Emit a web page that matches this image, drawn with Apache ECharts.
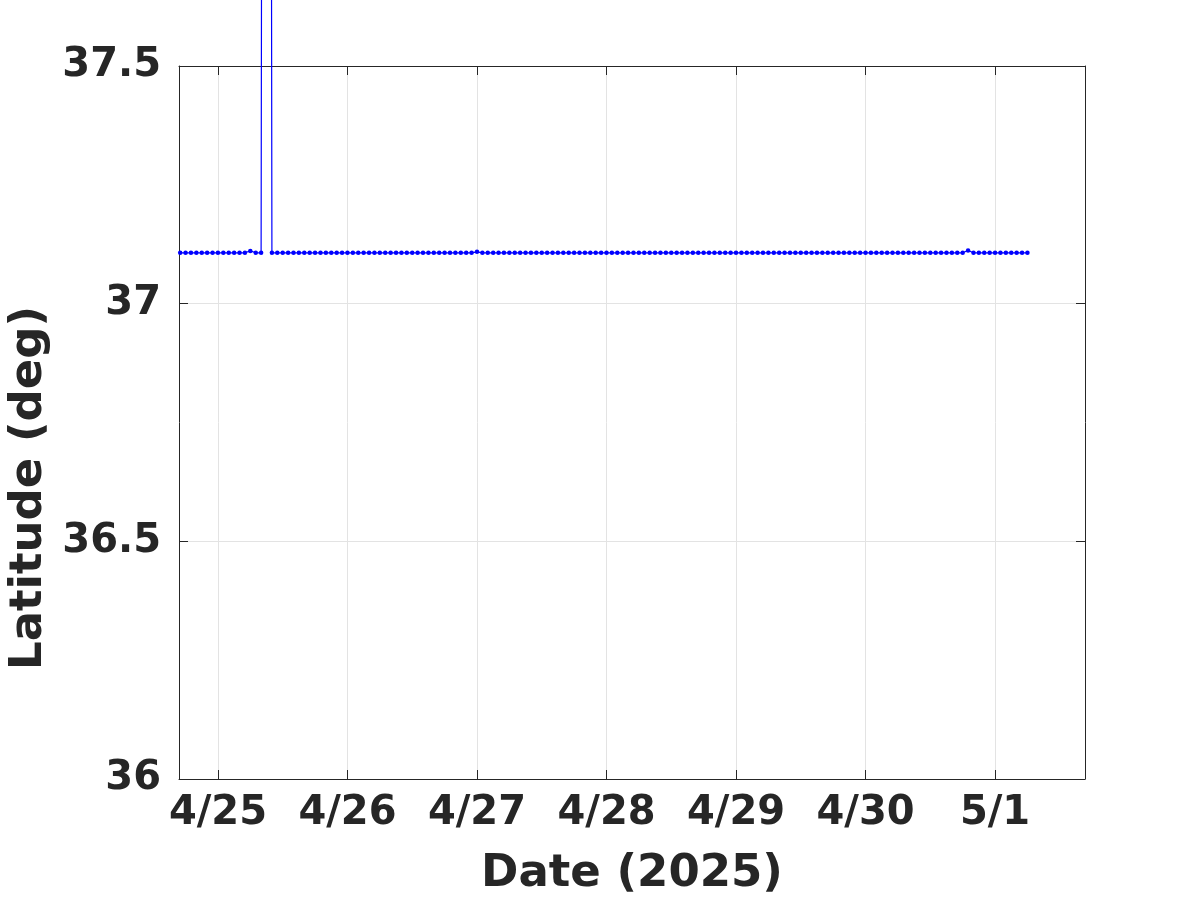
<!DOCTYPE html>
<html>
<head>
<meta charset="utf-8">
<script src="https://cdn.jsdelivr.net/npm/echarts@6/dist/echarts.min.js"></script>
<style>html,body{margin:0;padding:0;background:#fff}#c{width:1200px;height:900px}</style>
</head>
<body>
<div id="c"></div>
<script>
// hourly samples starting 2025-04-24 17:00
const startTime = [2025, 3, 24, 17];
const dayTicks = ['2025-04-25','2025-04-26','2025-04-27','2025-04-28','2025-04-29','2025-04-30','2025-05-01'];
const yTicks = [36, 36.5, 37, 37.5];
const latitude = [
  // 4/24 17-23
  37.107,37.107,37.107,37.107,37.107,37.107,37.107,
  // 4/25
  37.107,37.107,37.107,37.107,37.107,37.107,37.111,37.107,37.107,45.0,37.107,37.107,
  37.107,37.107,37.107,37.107,37.107,37.107,37.107,37.107,37.107,37.107,37.107,37.107,
  // 4/26
  37.107,37.107,37.107,37.107,37.107,37.107,37.107,37.107,37.107,37.107,37.107,37.107,
  37.107,37.107,37.107,37.107,37.107,37.107,37.107,37.107,37.107,37.107,37.107,37.107,
  // 4/27
  37.109,37.107,37.107,37.107,37.107,37.107,37.107,37.107,37.107,37.107,37.107,37.107,
  37.107,37.107,37.107,37.107,37.107,37.107,37.107,37.107,37.107,37.107,37.107,37.107,
  // 4/28
  37.107,37.107,37.107,37.107,37.107,37.107,37.107,37.107,37.107,37.107,37.107,37.107,
  37.107,37.107,37.107,37.107,37.107,37.107,37.107,37.107,37.107,37.107,37.107,37.107,
  // 4/29
  37.107,37.107,37.107,37.107,37.107,37.107,37.107,37.107,37.107,37.107,37.107,37.107,
  37.107,37.107,37.107,37.107,37.107,37.107,37.107,37.107,37.107,37.107,37.107,37.107,
  // 4/30
  37.107,37.107,37.107,37.107,37.107,37.107,37.107,37.107,37.107,37.107,37.107,37.107,
  37.107,37.107,37.107,37.107,37.107,37.107,37.107,37.112,37.107,37.107,37.107,37.107,
  // 5/1 0-6
  37.107,37.107,37.107,37.107,37.107,37.107,37.107
];
const xLimits = ['2025-04-24T16:47:00','2025-05-01T16:40:00'];
const yLimits = [36, 37.5];

const HOUR = 3600000;
const t0 = new Date(startTime[0], startTime[1], startTime[2], startTime[3]).getTime();
const seriesData = latitude.map((v, i) => [t0 + i * HOUR, v]);
const tickMs = dayTicks.map(s => { const p = s.split('-').map(Number); return new Date(p[0], p[1]-1, p[2]).getTime(); });
const xMin = new Date(xLimits[0]).getTime();
const xMax = new Date(xLimits[1]).getTime();

const axisColor = '#262626';
const font = 'DejaVu Sans';
const fmtDate = v => { const d = new Date(v); return (d.getMonth()+1) + '/' + d.getDate(); };

const chart = echarts.init(document.getElementById('c'), null, {renderer: 'canvas'});
chart.setOption({
  animation: false,
  backgroundColor: '#ffffff',
  grid: {left: 179, right: 115, top: 66, bottom: 121},
  xAxis: [{
    type: 'value', min: xMin, max: xMax,
    axisLine: {show: true, onZero: false, lineStyle: {color: axisColor, width: 1}},
    axisTick: {show: true, inside: true, length: 9, customValues: tickMs, lineStyle: {color: axisColor}},
    axisLabel: {customValues: tickMs, formatter: fmtDate, margin: 15, fontFamily: font, fontWeight: 'bold', fontSize: 40, color: axisColor},
    splitLine: {show: true, lineStyle: {color: '#e3e3e3', width: 1}}
  }, {
    type: 'value', min: xMin, max: xMax, position: 'top',
    axisLine: {show: true, onZero: false, lineStyle: {color: axisColor, width: 1}},
    axisTick: {show: true, inside: true, length: 9, customValues: tickMs, lineStyle: {color: axisColor}},
    axisLabel: {show: false}, splitLine: {show: false}
  }],
  yAxis: [{
    type: 'value', min: yLimits[0], max: yLimits[1], interval: 0.5,
    axisLine: {show: true, onZero: false, lineStyle: {color: axisColor, width: 1}},
    axisTick: {show: true, inside: true, length: 9, lineStyle: {color: axisColor}},
    axisLabel: {customValues: yTicks, margin: 18, padding: [6, 0, 0, 0], fontFamily: font, fontWeight: 'bold', fontSize: 40, color: axisColor},
    splitLine: {show: true, lineStyle: {color: '#e3e3e3', width: 1}}
  }, {
    type: 'value', min: yLimits[0], max: yLimits[1], interval: 0.5, position: 'right',
    axisLine: {show: true, onZero: false, lineStyle: {color: axisColor, width: 1}},
    axisTick: {show: true, inside: true, length: 9, lineStyle: {color: axisColor}},
    axisLabel: {show: false}, splitLine: {show: false}
  }],
  series: [{
    type: 'line', data: seriesData, clip: false,
    xAxisIndex: 0, yAxisIndex: 0,
    symbol: 'circle', symbolSize: 4.5, showAllSymbol: true,
    lineStyle: {color: '#0000ff', width: 1.2},
    itemStyle: {color: '#0000ff'}
  }],
  graphic: [{
    type: 'text', x: 632, y: 874,
    style: {text: 'Date (2025)', font: 'bold 45px "DejaVu Sans"', fill: axisColor, align: 'center', verticalAlign: 'middle'}
  }, {
    type: 'text', x: 29, y: 488, rotation: Math.PI / 2,
    style: {text: 'Latitude (deg)', font: 'bold 45px "DejaVu Sans"', fill: axisColor, align: 'center', verticalAlign: 'middle'}
  }]
});
</script>
</body>
</html>
